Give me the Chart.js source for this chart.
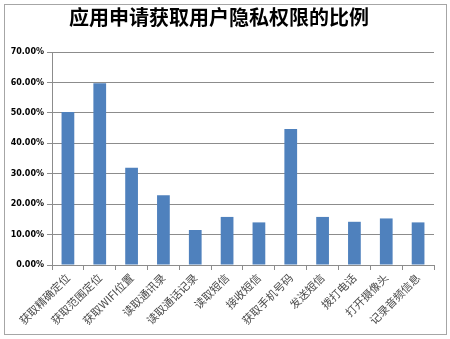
<!DOCTYPE html>
<html>
<head>
<meta charset="utf-8">
<script src="https://cdn.jsdelivr.net/npm/chart.js@4.4.0/dist/chart.umd.min.js"></script>
<style>
html,body{margin:0;padding:0;background:#fff;}
#wrap{width:450px;height:339px;position:relative;}
</style>
</head>
<body>
<div id="wrap"><canvas id="c" width="450" height="339"></canvas></div>
<script>
const titleText = '应用申请获取用户隐私权限的比例';
const categories = ['获取精确定位','获取范围定位','获取WIFI位置','读取通讯录','读取通话记录','读取短信','接收短信','获取手机号码','发送短信','拨打电话','打开摄像头','记录音频信息'];
const shareValues = [50.3, 59.7, 32.0, 22.9, 11.5, 15.8, 14.0, 44.7, 15.8, 14.2, 15.3, 14.0];
const yTicks = [0, 10, 20, 30, 40, 50, 60, 70];

const frame = {
  id: 'frame',
  beforeDraw(chart) {
    const ctx = chart.ctx;
    ctx.save();
    ctx.fillStyle = '#ffffff';
    ctx.fillRect(0, 0, chart.width, chart.height);
    ctx.strokeStyle = '#a6a6a6';
    ctx.lineWidth = 1;
    ctx.strokeRect(4.5, 4.5, 442, 330);
    ctx.restore();
  }
};

new Chart(document.getElementById('c'), {
  type: 'bar',
  data: {
    labels: categories,
    datasets: [{
      data: shareValues,
      backgroundColor: '#4F81BD',
      borderWidth: 0,
      barPercentage: 0.4,
      categoryPercentage: 1.0
    }]
  },
  options: {
    responsive: false,
    animation: false,
    devicePixelRatio: 1,
    layout: { padding: { left: 4, right: 16, top: 0, bottom: 6 } },
    plugins: {
      legend: { display: false },
      tooltip: { enabled: false },
      title: {
        display: true,
        text: titleText,
        color: '#000',
        font: { family: '"Noto Sans CJK SC"', size: 20, weight: 'bold', lineHeight: 1.2 },
        padding: { top: 5, bottom: 23 }
      }
    },
    scales: {
      x: {
        afterFit(scale) { scale.height = 68; },
        grid: { drawOnChartArea: false, drawTicks: true, tickLength: 5, color: '#8c8c8c', offset: true },
        border: { color: '#8c8c8c' },
        ticks: {
          minRotation: 45, maxRotation: 45, autoSkip: false, padding: 1,
          color: '#4a4a4a',
          font: { family: '"Noto Sans CJK SC"', size: 11 }
        }
      },
      y: {
        min: 0, max: 70,
        afterFit(scale) { scale.width = 48; },
        afterBuildTicks(scale) { scale.ticks = yTicks.map(v => ({ value: v })); },
        grid: { color: '#8c8c8c', tickLength: 5 },
        border: { color: '#8c8c8c' },
        ticks: {
          padding: 3,
          color: '#000',
          font: { family: '"DejaVu Sans"', size: 8, weight: 'bold' },
          callback: v => v.toFixed(2) + '%'
        }
      }
    }
  },
  plugins: [frame]
});
</script>
</body>
</html>
